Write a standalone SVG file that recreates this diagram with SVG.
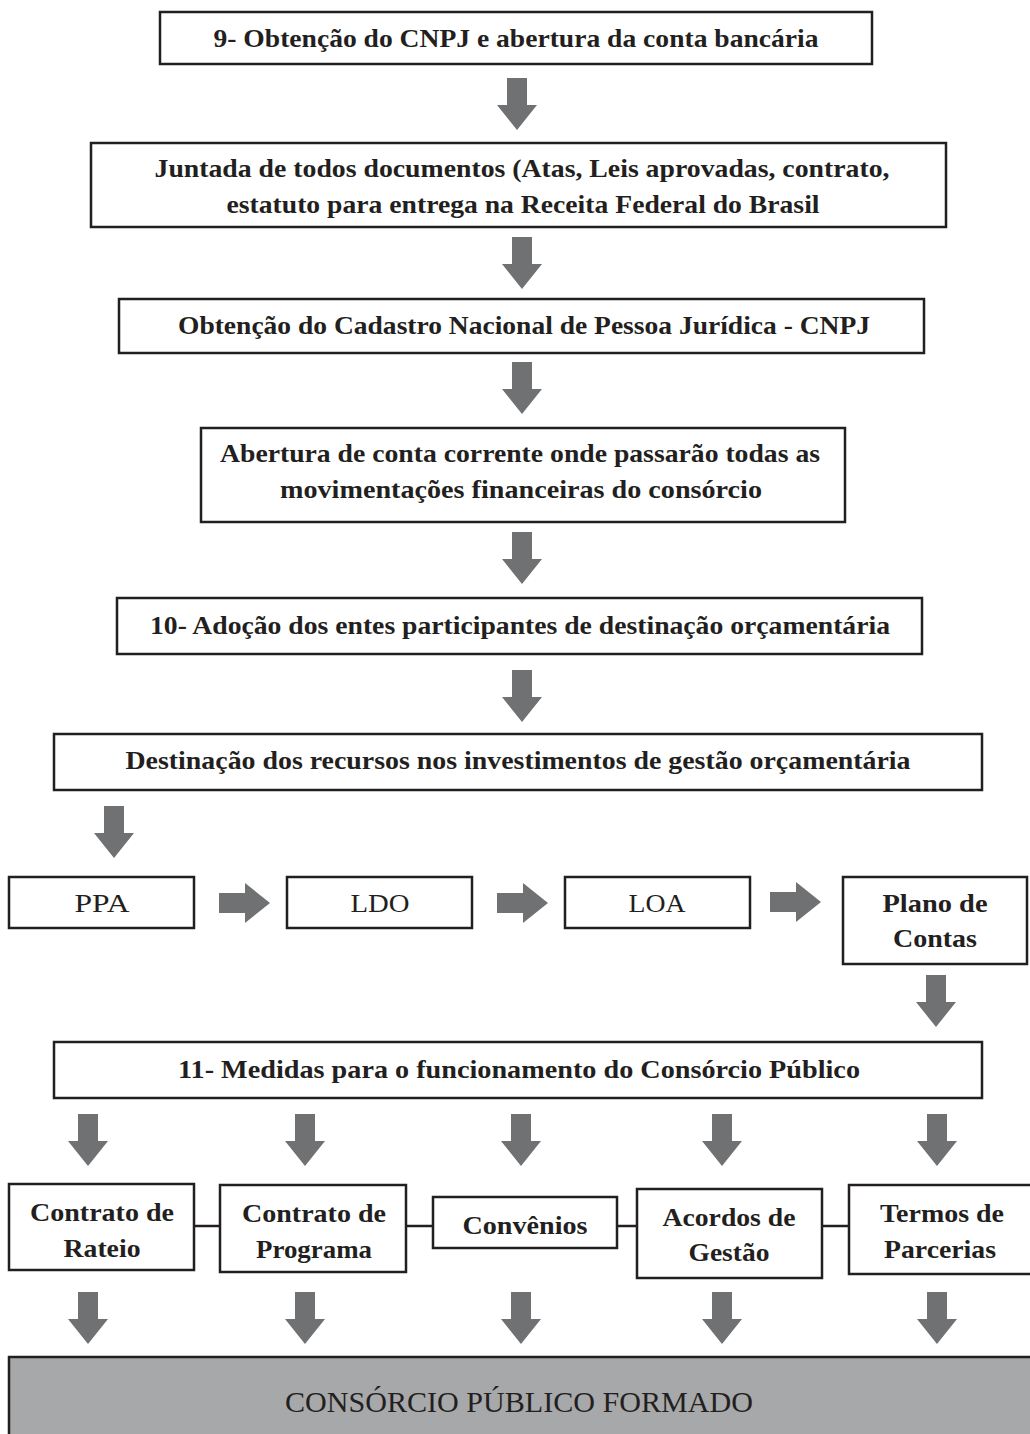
<svg xmlns="http://www.w3.org/2000/svg" xmlns:xlink="http://www.w3.org/1999/xlink" width="1030" height="1434" viewBox="0 0 1030 1434">
<style>
.box{fill:#fff;stroke:#231f20;stroke-width:2.5}
.gray{fill:#a7a8aa;stroke:#231f20;stroke-width:2.5}
.t{font-family:"Liberation Serif","DejaVu Serif",serif;font-size:25px;fill:#231f20;text-anchor:middle}
.b{font-weight:bold}
.arr{fill:#707173}
.ln{stroke:#231f20;stroke-width:2.5;fill:none}
</style>
<defs>
<path id="down" d="M-10,0 H10 V27 H20 L0,52 L-20,27 H-10 Z"/>
<path id="right" d="M0,-10 H26 V-20 L51,0 L26,20 V10 H0 Z"/>
</defs>
<rect width="1030" height="1434" fill="#fff"/>
<g id="connectors" class="arr">
<use xlink:href="#down" x="517" y="78"/>
<use xlink:href="#down" x="522" y="237"/>
<use xlink:href="#down" x="522" y="362"/>
<use xlink:href="#down" x="522" y="532"/>
<use xlink:href="#down" x="522" y="670"/>
<use xlink:href="#down" x="114" y="806"/>
<use xlink:href="#right" x="219" y="903"/>
<use xlink:href="#right" x="497" y="903"/>
<use xlink:href="#right" x="770" y="902"/>
<use xlink:href="#down" x="936" y="975"/>
<use xlink:href="#down" x="88" y="1114"/>
<use xlink:href="#down" x="305" y="1114"/>
<use xlink:href="#down" x="521" y="1114"/>
<use xlink:href="#down" x="722" y="1114"/>
<use xlink:href="#down" x="937" y="1114"/>
<use xlink:href="#down" x="88" y="1292"/>
<use xlink:href="#down" x="305" y="1292"/>
<use xlink:href="#down" x="521" y="1292"/>
<use xlink:href="#down" x="722" y="1292"/>
<use xlink:href="#down" x="937" y="1292"/>
<path class="ln" d="M194,1226 H220 M406,1226 H433 M617,1226 H637 M822,1226 H849"/>
</g>
<g id="n1"><rect class="box" x="160" y="12" width="712" height="52"/><text class="t b" x="516" y="47" textLength="605" lengthAdjust="spacingAndGlyphs">9- Obtenção do CNPJ e abertura da conta bancária</text></g>
<g id="n2"><rect class="box" x="91" y="143" width="855" height="84"/><text class="t b" x="522" y="177" textLength="735" lengthAdjust="spacingAndGlyphs">Juntada de todos documentos (Atas, Leis aprovadas, contrato,</text><text class="t b" x="523" y="213" textLength="593" lengthAdjust="spacingAndGlyphs">estatuto para entrega na Receita Federal do Brasil</text></g>
<g id="n3"><rect class="box" x="119" y="299" width="805" height="54"/><text class="t b" x="524" y="334" textLength="692" lengthAdjust="spacingAndGlyphs">Obtenção do Cadastro Nacional de Pessoa Jurídica - CNPJ</text></g>
<g id="n4"><rect class="box" x="201" y="428" width="644" height="94"/><text class="t b" x="520" y="462" textLength="600" lengthAdjust="spacingAndGlyphs">Abertura de conta corrente onde passarão todas as</text><text class="t b" x="521" y="498" textLength="482" lengthAdjust="spacingAndGlyphs">movimentações financeiras do consórcio</text></g>
<g id="n5"><rect class="box" x="117" y="598" width="805" height="56"/><text class="t b" x="520" y="634" textLength="740" lengthAdjust="spacingAndGlyphs">10- Adoção dos entes participantes de destinação orçamentária</text></g>
<g id="n6"><rect class="box" x="54" y="734" width="928" height="56"/><text class="t b" x="518" y="769" textLength="785" lengthAdjust="spacingAndGlyphs">Destinação dos recursos nos investimentos de gestão orçamentária</text></g>
<g id="ppa"><rect class="box" x="9" y="877" width="185" height="51"/><text class="t" x="102" y="912" textLength="55" lengthAdjust="spacingAndGlyphs">PPA</text></g>
<g id="ldo"><rect class="box" x="287" y="877" width="185" height="51"/><text class="t" x="380" y="912" textLength="59" lengthAdjust="spacingAndGlyphs">LDO</text></g>
<g id="loa"><rect class="box" x="565" y="877" width="185" height="51"/><text class="t" x="657" y="912" textLength="57" lengthAdjust="spacingAndGlyphs">LOA</text></g>
<g id="plano"><rect class="box" x="843" y="877" width="184" height="87"/><text class="t b" x="935" y="912" textLength="105" lengthAdjust="spacingAndGlyphs">Plano de</text><text class="t b" x="935" y="947" textLength="84" lengthAdjust="spacingAndGlyphs">Contas</text></g>
<g id="n7"><rect class="box" x="54" y="1042" width="928" height="56"/><text class="t b" x="519" y="1078" textLength="682" lengthAdjust="spacingAndGlyphs">11- Medidas para o funcionamento do Consórcio Público</text></g>
<g id="rateio"><rect class="box" x="9" y="1184" width="185" height="86"/><text class="t b" x="102" y="1221" textLength="144" lengthAdjust="spacingAndGlyphs">Contrato de</text><text class="t b" x="102" y="1257" textLength="77" lengthAdjust="spacingAndGlyphs">Rateio</text></g>
<g id="programa"><rect class="box" x="220" y="1185" width="186" height="87"/><text class="t b" x="314" y="1222" textLength="144" lengthAdjust="spacingAndGlyphs">Contrato de</text><text class="t b" x="314" y="1258" textLength="116" lengthAdjust="spacingAndGlyphs">Programa</text></g>
<g id="convenios"><rect class="box" x="433" y="1197" width="184" height="51"/><text class="t b" x="525" y="1234" textLength="125" lengthAdjust="spacingAndGlyphs">Convênios</text></g>
<g id="acordos"><rect class="box" x="637" y="1189" width="185" height="89"/><text class="t b" x="729" y="1226" textLength="133" lengthAdjust="spacingAndGlyphs">Acordos de</text><text class="t b" x="729" y="1261" textLength="81" lengthAdjust="spacingAndGlyphs">Gestão</text></g>
<g id="termos"><rect class="box" x="849" y="1185" width="185" height="89"/><text class="t b" x="942" y="1222" textLength="124" lengthAdjust="spacingAndGlyphs">Termos de</text><text class="t b" x="940" y="1258" textLength="112" lengthAdjust="spacingAndGlyphs">Parcerias</text></g>
<g id="final"><rect class="gray" x="9" y="1357" width="1030" height="90"/><text class="t" x="519" y="1412" style="font-size:30px" textLength="468" lengthAdjust="spacingAndGlyphs">CONSÓRCIO PÚBLICO FORMADO</text></g>
</svg>
